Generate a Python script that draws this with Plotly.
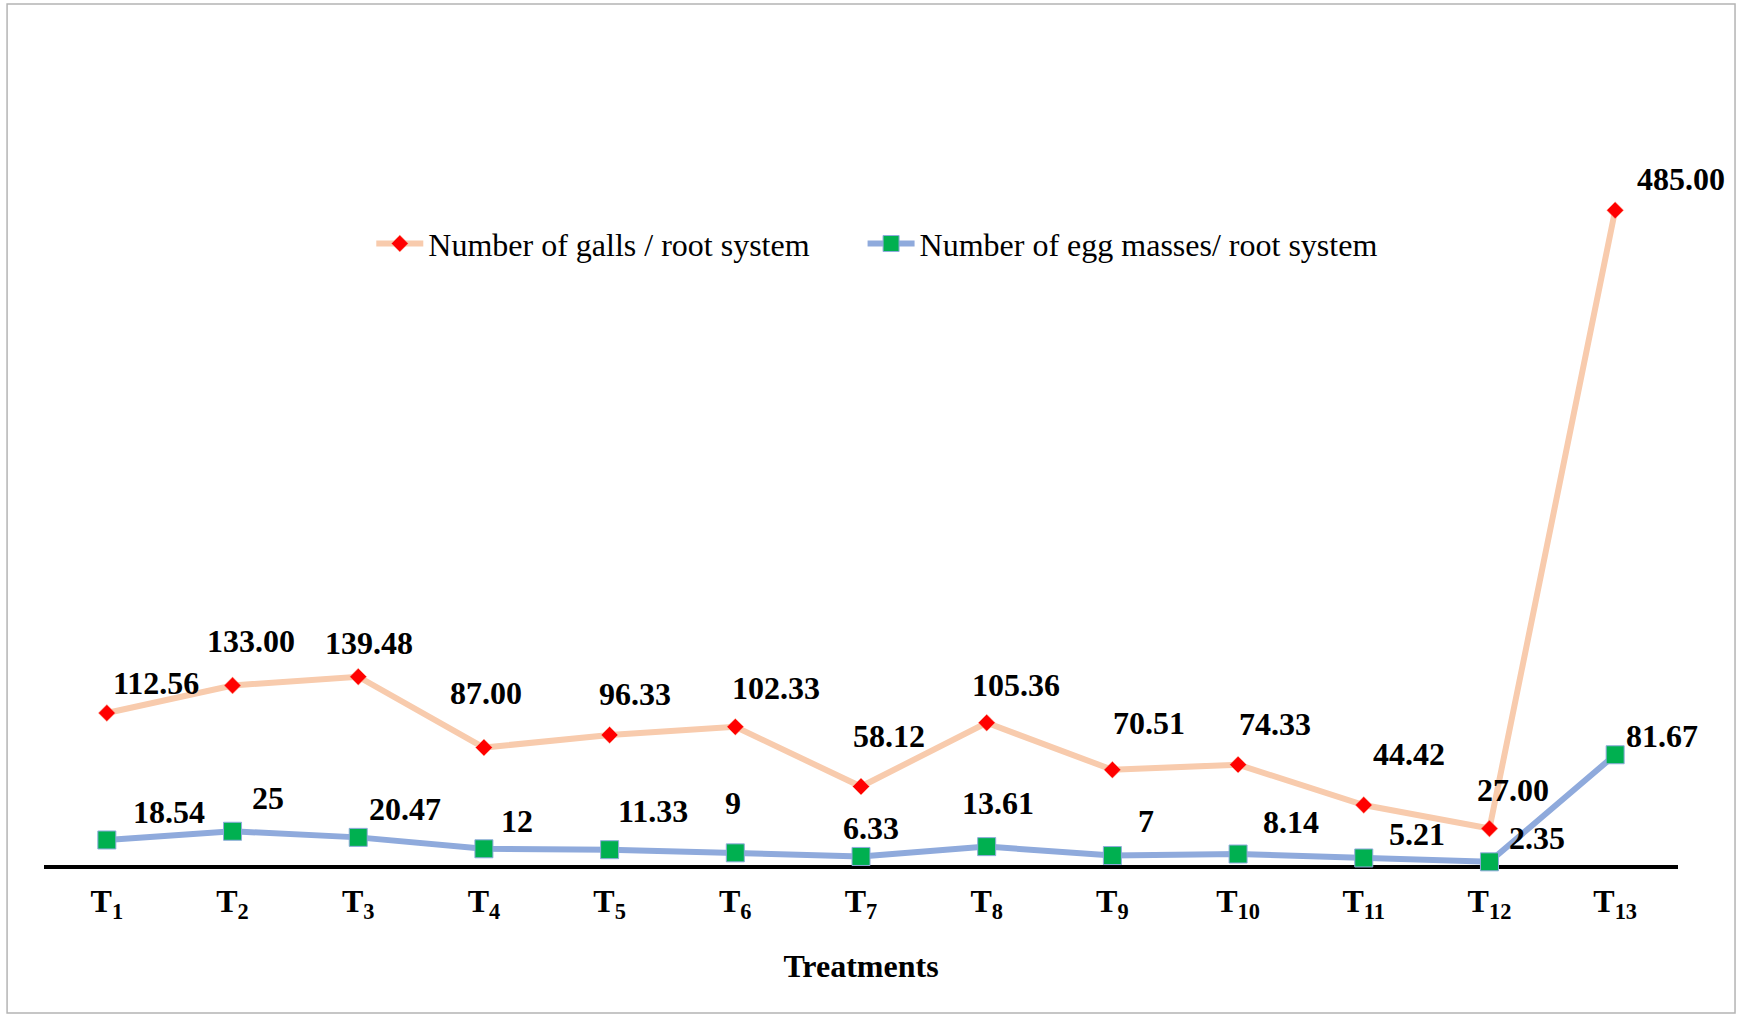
import plotly.graph_objects as go

categories = ["T1", "T2", "T3", "T4", "T5", "T6", "T7", "T8", "T9", "T10", "T11", "T12", "T13"]
tick_labels = ["T<sub>%d</sub>" % i for i in range(1, 14)]

galls = [112.56, 133.00, 139.48, 87.00, 96.33, 102.33, 58.12, 105.36, 70.51, 74.33, 44.42, 27.00, 485.00]
galls_text = ["112.56", "133.00", "139.48", "87.00", "96.33", "102.33", "58.12", "105.36", "70.51", "74.33", "44.42", "27.00", "485.00"]

eggs = [18.54, 25, 20.47, 12, 11.33, 9, 6.33, 13.61, 7, 8.14, 5.21, 2.35, 81.67]
eggs_text = ["18.54", "25", "20.47", "12", "11.33", "9", "6.33", "13.61", "7", "8.14", "5.21", "2.35", "81.67"]

series_names = ["Number of galls / root system", "Number of egg masses/ root system"]

# label offsets (pixels) relative to each marker
galls_off = [(49, -30), (18, -44), (11, -34), (2, -55), (25, -41), (41, -39), (28, -51),
             (29, -38), (37, -47), (37, -41), (45, -51), (24, -39), (66, -31)]
eggs_off = [(62, -28), (35, -33), (47, -28), (33, -28), (43, -39), (-2, -50), (10, -28),
            (11, -44), (34, -35), (53, -32), (53, -24), (48, -24), (47, -19)]

FONT = "Times New Roman, Liberation Serif, serif"
PAD = "\u00a0" * 6  # extra spacing between legend entries

fig = go.Figure()
fig.add_trace(go.Scatter(
    x=categories, y=galls, mode="lines+markers", name=series_names[0] + PAD,
    line=dict(color="#F8CBAD", width=6),
    marker=dict(symbol="diamond", color="#FF0000", size=13, line=dict(width=0.5, color="#F8CBAD")),
    cliponaxis=False,
))
fig.add_trace(go.Scatter(
    x=categories, y=eggs, mode="lines+markers", name=series_names[1],
    line=dict(color="#8FAADC", width=6),
    marker=dict(symbol="square", color="#00B050", size=18, line=dict(width=1, color="#8FAADC")),
    cliponaxis=False,
))

annotations = []
for cat, v, t, (dx, dy) in zip(categories, galls, galls_text, galls_off):
    annotations.append(dict(x=cat, y=v, text="<b>%s</b>" % t, showarrow=False,
                            xshift=dx, yshift=-dy, font=dict(family=FONT, size=32, color="black")))
for cat, v, t, (dx, dy) in zip(categories, eggs, eggs_text, eggs_off):
    annotations.append(dict(x=cat, y=v, text="<b>%s</b>" % t, showarrow=False,
                            xshift=dx, yshift=-dy, font=dict(family=FONT, size=32, color="black")))

fig.update_layout(
    width=1737, height=1016,
    margin=dict(l=44, r=59, t=55, b=151),
    paper_bgcolor="white", plot_bgcolor="white",
    font=dict(family=FONT, color="black"),
    showlegend=True,
    legend=dict(orientation="h", x=0.2003, y=0.767, xanchor="left", yanchor="middle",
                font=dict(family=FONT, size=32, color="black"), itemwidth=47,
                bgcolor="rgba(0,0,0,0)"),
    annotations=annotations,
    xaxis=dict(
        type="category", range=[-0.5, 12.5],
        tickmode="array", tickvals=categories, ticktext=["<b>%s</b>" % t for t in tick_labels],
        tickfont=dict(family=FONT, size=32, color="black"),
        showline=True, linecolor="black", linewidth=4, layer="below traces",
        showgrid=False, zeroline=False, ticks="", ticklabelstandoff=5,
        title=dict(text="<b>Treatments</b>", font=dict(family=FONT, size=32, color="black"), standoff=32),
        fixedrange=True,
    ),
    yaxis=dict(range=[0, 600], visible=False, showgrid=False, zeroline=False, fixedrange=True),
    shapes=[dict(type="rect", xref="paper", yref="paper",
                 x0=-0.0226, x1=1.0349, y0=-0.1827, y1=1.063,
                 line=dict(color="#B4B4B4", width=1.5), fillcolor="rgba(0,0,0,0)", layer="below")],
)

fig.write_html("out.html", config={"displayModeBar": False},
               post_script="document.body.style.margin='0';")
